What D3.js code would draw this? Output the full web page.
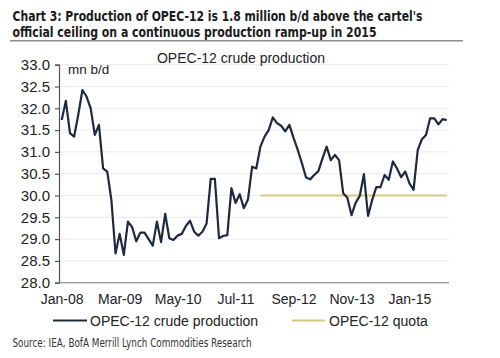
<!DOCTYPE html>
<html>
<head>
<meta charset="utf-8">
<script src="https://cdn.jsdelivr.net/npm/d3@7"></script>
<style>
  html, body { margin: 0; padding: 0; background: #ffffff; }
  svg { display: block; }
</style>
</head>
<body>
<svg id="chart" width="500" height="358"></svg>
<script>
const months = [
  "Jan-08","Feb-08","Mar-08","Apr-08","May-08","Jun-08","Jul-08","Aug-08","Sep-08","Oct-08","Nov-08","Dec-08",
  "Jan-09","Feb-09","Mar-09","Apr-09","May-09","Jun-09","Jul-09","Aug-09","Sep-09","Oct-09","Nov-09","Dec-09",
  "Jan-10","Feb-10","Mar-10","Apr-10","May-10","Jun-10","Jul-10","Aug-10","Sep-10","Oct-10","Nov-10","Dec-10",
  "Jan-11","Feb-11","Mar-11","Apr-11","May-11","Jun-11","Jul-11","Aug-11","Sep-11","Oct-11","Nov-11","Dec-11",
  "Jan-12","Feb-12","Mar-12","Apr-12","May-12","Jun-12","Jul-12","Aug-12","Sep-12","Oct-12","Nov-12","Dec-12",
  "Jan-13","Feb-13","Mar-13","Apr-13","May-13","Jun-13","Jul-13","Aug-13","Sep-13","Oct-13","Nov-13","Dec-13",
  "Jan-14","Feb-14","Mar-14","Apr-14","May-14","Jun-14","Jul-14","Aug-14","Sep-14","Oct-14","Nov-14","Dec-14",
  "Jan-15","Feb-15","Mar-15","Apr-15","May-15","Jun-15","Jul-15","Aug-15","Sep-15","Oct-15"
];

const production = [
  31.73, 32.17, 31.43, 31.35, 31.85, 32.42, 32.27, 32.00, 31.39, 31.62, 30.62, 30.55,
  29.90, 28.67, 29.12, 28.64, 29.40, 29.28, 28.95, 29.15, 29.15, 29.00, 28.85, 29.40,
  28.93, 29.58, 29.02, 28.98, 29.08, 29.12, 29.30, 29.42, 29.17, 29.08, 29.17, 29.36,
  30.38, 30.38, 29.02, 29.07, 29.09, 30.17, 29.83, 30.03, 29.71, 29.91, 30.66, 30.62,
  31.12, 31.35, 31.50, 31.79, 31.66, 31.60, 31.47, 31.62, 31.32, 31.05, 30.75, 30.42,
  30.37, 30.47, 30.56, 30.85, 31.12, 30.81, 30.93, 30.81, 30.05, 29.95, 29.55, 29.83,
  29.99, 30.49, 29.53, 29.90, 30.19, 30.19, 30.47, 30.36, 30.78, 30.62, 30.42, 30.55,
  30.28, 30.13, 31.04, 31.29, 31.39, 31.77, 31.77, 31.63, 31.75, 31.73
];

const quotaStart = "Jan-12";
const quotaValue = 30.0;

const xTickLabels = ["Jan-08","Mar-09","May-10","Jul-11","Sep-12","Nov-13","Jan-15"];
const yTicks = [28.0, 28.5, 29.0, 29.5, 30.0, 30.5, 31.0, 31.5, 32.0, 32.5, 33.0];

const titleLines = [
  "Chart 3: Production of OPEC-12 is 1.8 million b/d above the cartel's",
  "official ceiling on a continuous production ramp-up in 2015"
];
const subtitle = "OPEC-12 crude production";
const unitLabel = "mn b/d";
const legendNames = ["OPEC-12 crude production", "OPEC-12 quota"];
const sourceText = "Source: IEA, BofA Merrill Lynch Commodities Research";

const prodColor = "#1e2940";
const quotaColor = "#d5c77e";

const svg = d3.select("#chart");

// Title
const narrow = "'Liberation Sans Narrow', 'DejaVu Sans Condensed', Arial, sans-serif";
svg.append("text").attr("x", 12.5).attr("y", 20.5)
  .attr("font-family", narrow).attr("font-weight", "bold").attr("font-size", 14)
  .attr("fill", "#1a1a1a").attr("textLength", 410).attr("lengthAdjust", "spacingAndGlyphs")
  .text(titleLines[0]);
svg.append("text").attr("x", 12.5).attr("y", 36.5)
  .attr("font-family", narrow).attr("font-weight", "bold").attr("font-size", 14)
  .attr("fill", "#1a1a1a").attr("textLength", 364).attr("lengthAdjust", "spacingAndGlyphs")
  .text(titleLines[1]);
svg.append("line").attr("x1", 10).attr("x2", 463).attr("y1", 40.8).attr("y2", 40.8)
  .attr("stroke", "#8c8c8c").attr("stroke-width", 1.4);

// Scales
const x = d3.scalePoint().domain(months).range([61.7, 446.7]);
const y = d3.scaleLinear().domain([28, 33]).range([282.7, 64.7]);

const plotLeft = 59, plotRight = 449;

// Gridlines
svg.append("g").selectAll("line").data(yTicks.filter(v => v > 28)).join("line")
  .attr("x1", plotLeft).attr("x2", plotRight)
  .attr("y1", d => y(d)).attr("y2", d => y(d))
  .attr("stroke", "#ebebeb").attr("stroke-width", 1);

// Y axis
const yAxis = svg.append("g").attr("transform", `translate(${plotLeft},0)`)
  .call(d3.axisLeft(y).tickValues(yTicks).tickFormat(d3.format(".1f")).tickSize(4).tickPadding(5));
yAxis.select(".domain").attr("stroke", "#555").attr("stroke-width", 1.2);
yAxis.selectAll(".tick line").attr("stroke", "#555").attr("stroke-width", 1.2);
yAxis.selectAll("text").attr("font-family", "Arial, 'Liberation Sans', sans-serif")
  .attr("font-size", 15).attr("fill", "#222");

// X axis
const xAxis = svg.append("g").attr("transform", `translate(0,${y(28)})`)
  .call(d3.axisBottom(x).tickValues(xTickLabels).tickSize(0).tickPadding(11));
xAxis.select(".domain").attr("d", `M${plotLeft},0H${plotRight}`).attr("stroke", "#777").attr("stroke-width", 1.1);
xAxis.selectAll("text").attr("font-family", "Arial, 'Liberation Sans', sans-serif")
  .attr("font-size", 14).attr("fill", "#222");

// Subtitle & unit
svg.append("text").attr("x", 241).attr("y", 62.5).attr("text-anchor", "middle")
  .attr("font-family", "Arial, 'Liberation Sans', sans-serif").attr("font-size", 14)
  .attr("fill", "#222").text(subtitle);
svg.append("text").attr("x", 68).attr("y", 73.5)
  .attr("font-family", "Arial, 'Liberation Sans', sans-serif").attr("font-size", 13.5)
  .attr("fill", "#222").text(unitLabel);

// Quota line
const quotaData = months.slice(months.indexOf(quotaStart)).map(m => ({m, v: quotaValue}));
svg.append("path").datum(quotaData)
  .attr("fill", "none").attr("stroke", quotaColor).attr("stroke-width", 2)
  .attr("d", d3.line().x(d => x(d.m)).y(d => y(d.v)));

// Production line
svg.append("path").datum(production)
  .attr("fill", "none").attr("stroke", prodColor).attr("stroke-width", 2.2)
  .attr("stroke-linejoin", "round")
  .attr("d", d3.line().x((d, i) => x(months[i])).y(d => y(d)));

// Legend
const legend = svg.append("g").attr("font-family", "Arial, 'Liberation Sans', sans-serif")
  .attr("font-size", 14).attr("fill", "#222");
const legendItems = [
  {name: legendNames[0], color: prodColor, x1: 53, x2: 87, tx: 90},
  {name: legendNames[1], color: quotaColor, x1: 292, x2: 325, tx: 329}
];
legendItems.forEach(it => {
  legend.append("line").attr("x1", it.x1).attr("x2", it.x2).attr("y1", 320.5).attr("y2", 320.5)
    .attr("stroke", it.color).attr("stroke-width", 2);
  legend.append("text").attr("x", it.tx).attr("y", 325.5).text(it.name);
});

// Source
svg.append("text").attr("x", 12.5).attr("y", 346.5)
  .attr("font-family", narrow).attr("font-size", 12)
  .attr("fill", "#333").attr("textLength", 239).attr("lengthAdjust", "spacingAndGlyphs")
  .text(sourceText);
</script>
</body>
</html>
